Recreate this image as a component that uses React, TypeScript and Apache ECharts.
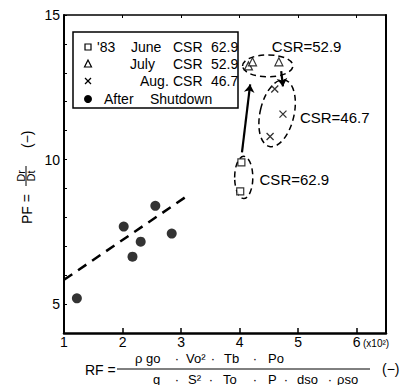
import React, { useEffect, useRef } from 'react';
import * as echarts from 'echarts';

// ---- data ----
const juneRF = [4.03, 4.01];
const junePF = [9.9, 8.9];
const julyRF = [4.15, 4.22, 4.67];
const julyPF = [13.24, 13.38, 13.38];
const augRF = [4.6, 4.74, 4.52];
const augPF = [12.44, 11.57, 10.8];
const afterRF = [1.22, 2.02, 2.17, 2.31, 2.56, 2.84];
const afterPF = [5.2, 7.68, 6.64, 7.16, 8.4, 7.44];
const fitRF = [1, 3.14];
const fitPF = [5.84, 8.79];
const xTickLabels = [1, 2, 3, 4, 5, 6];
const yTickLabels = [5, 10, 15];
const csrTexts = ['CSR=62.9', 'CSR=52.9', 'CSR=46.7'];
const csrRF = [4.34, 4.55, 5.03];
const csrPF = [9.31, 13.9, 11.47];
const outlineRF = [4.07, 4.48, 4.64];
const outlinePF = [9.38, 13.24, 11.6];
const outlineHalfRF = [0.155, 0.43, 0.29];
const outlineHalfPF = [0.73, 0.38, 1.18];
const outlineTilt = [0, 0, -13];
const arrowFromRF = [4.04, 4.71];
const arrowFromPF = [10.25, 13.06];
const arrowToRF = [4.18, 4.74];
const arrowToPF = [12.6, 12.53];

const FONT = '"Liberation Sans", Arial, Helvetica, sans-serif';
const BLACK = '#000';

function pairs(xs: number[], ys: number[]) {
  return xs.map((x, i) => [x, ys[i]]);
}

export default function App() {
  const ref = useRef<HTMLDivElement>(null);
  useEffect(() => {
    if (!ref.current) return;
    const chart = echarts.init(ref.current, null, { renderer: 'svg' });
    const txt = (x: number, y: number, text: string, size = 13, align = 'left', extra: any = {}, rot = 0) => ({
      type: 'text',
      x,
      y,
      rotation: rot,
      z: 20,
      style: { text, fontSize: size, fontFamily: FONT, fill: BLACK, align, verticalAlign: 'middle', ...extra },
    });
    const dot = (x: number, y: number) => txt(x, y, '·', 13, 'center');
    const R = Math.PI / 2;

    const option: any = {
      animation: false,
      backgroundColor: '#fff',
      grid: { left: 64, right: 27, top: 15, bottom: 52 },
      xAxis: [
        {
          type: 'value', min: 1, max: 6.5, interval: 1,
          axisLine: { show: true, lineStyle: { color: BLACK, width: 2.5 } },
          axisTick: { show: true, inside: true, length: 5, lineStyle: { color: BLACK, width: 1.5 } },
          axisLabel: {
            margin: 2, fontSize: 14, fontFamily: FONT, color: BLACK,
            formatter: (v: number) => (xTickLabels.includes(v) ? String(v) : ''),
          },
          splitLine: { show: false },
        },
        {
          type: 'value', position: 'top', min: 1, max: 6.5, interval: 1,
          axisLine: { show: true, lineStyle: { color: BLACK, width: 1.5 } },
          axisTick: { show: true, inside: true, length: 3, lineStyle: { color: BLACK, width: 1 } },
          axisLabel: { show: false },
          splitLine: { show: false },
        },
      ],
      yAxis: [
        {
          type: 'value', min: 4, max: 15, interval: 1,
          axisLine: { show: true, lineStyle: { color: BLACK, width: 2 } },
          axisTick: { show: true, inside: true, length: 3, lineStyle: { color: BLACK, width: 1 } },
          axisLabel: {
            margin: 4, fontSize: 14, fontFamily: FONT, color: BLACK,
            formatter: (v: number) => (yTickLabels.includes(v) ? String(v) : ''),
          },
          splitLine: { show: false },
        },
        {
          type: 'value', position: 'right', min: 4, max: 15, interval: 1,
          axisLine: { show: true, lineStyle: { color: BLACK, width: 2 } },
          axisTick: { show: false },
          axisLabel: { show: false },
          splitLine: { show: false },
        },
      ],
      series: [
        {
          name: 'fit', type: 'line', data: pairs(fitRF, fitPF), symbol: 'none',
          lineStyle: { color: BLACK, width: 2.5, type: [10, 7] }, z: 2,
        },
        {
          name: 'outlines', type: 'custom',
          data: outlineRF.map((x, i) => [x, outlinePF[i], outlineHalfRF[i], outlineHalfPF[i], outlineTilt[i]]),
          renderItem: (params: any, api: any) => {
            const c = api.coord([api.value(0), api.value(1)]);
            const s = api.size([api.value(2), api.value(3)]);
            return {
              type: 'ellipse', x: c[0], y: c[1], rotation: (api.value(4) * Math.PI) / 180,
              shape: { cx: 0, cy: 0, rx: s[0], ry: s[1] },
              style: { fill: 'none', stroke: BLACK, lineWidth: 1.5, lineDash: [6, 4] },
            };
          },
          silent: true, z: 2,
        },
        {
          name: 'csr', type: 'custom',
          data: csrRF.map((x, i) => [x, csrPF[i], i]),
          renderItem: (params: any, api: any) => {
            const c = api.coord([api.value(0), api.value(1)]);
            return {
              type: 'text', x: c[0], y: c[1],
              style: { text: csrTexts[api.value(2)], fontSize: 15, fontFamily: FONT, fill: BLACK, align: 'left', verticalAlign: 'middle' },
            };
          },
          silent: true, z: 3,
        },
        {
          name: 'arrows', type: 'lines', coordinateSystem: 'cartesian2d',
          data: arrowFromRF.map((x, i) => ({ coords: [[x, arrowFromPF[i]], [arrowToRF[i], arrowToPF[i]]] })),
          symbol: ['none', 'arrow'], symbolSize: 8,
          lineStyle: { color: BLACK, width: 2.2, opacity: 1, curveness: 0 }, z: 3,
        },
        {
          name: 'June', type: 'scatter', data: pairs(juneRF, junePF), symbol: 'rect', symbolSize: 7,
          itemStyle: { color: '#fff', borderColor: BLACK, borderWidth: 1.2 }, z: 4,
        },
        {
          name: 'July', type: 'scatter', data: pairs(julyRF, julyPF), symbol: 'triangle', symbolSize: 8,
          itemStyle: { color: '#fff', borderColor: BLACK, borderWidth: 1.2 }, z: 4,
        },
        {
          name: 'Aug', type: 'scatter', data: pairs(augRF, augPF), symbol: 'path://M0,0L10,10M10,0L0,10', symbolSize: 7,
          itemStyle: { color: 'none', borderColor: BLACK, borderWidth: 1.3 }, z: 4,
        },
        {
          name: 'After Shutdown', type: 'scatter', data: pairs(afterRF, afterPF), symbol: 'circle', symbolSize: 10,
          itemStyle: { color: BLACK }, z: 4,
        },
      ],
      graphic: [
        { type: 'rect', shape: { x: 73, y: 32, width: 165, height: 76 }, style: { fill: '#fff', stroke: BLACK, lineWidth: 1.5 }, z: 10 },
        { type: 'rect', z: 20, shape: { x: 85, y: 44, width: 6, height: 6 }, style: { fill: '#fff', stroke: BLACK, lineWidth: 1.2 } },
        txt(97, 47, "'83", 14),
        txt(131, 47, 'June', 14),
        txt(173, 47, 'CSR', 14),
        txt(211, 47, '62.9', 14),
        { type: 'polygon', z: 20, shape: { points: [[88, 60], [84.5, 67], [91.5, 67]] }, style: { fill: '#fff', stroke: BLACK, lineWidth: 1.2 } },
        txt(130, 64, 'July', 14),
        txt(173, 64, 'CSR', 14),
        txt(211, 64, '52.9', 14),
        { type: 'line', z: 20, shape: { x1: 85, y1: 78, x2: 91, y2: 84 }, style: { stroke: BLACK, lineWidth: 1.3 } },
        { type: 'line', z: 20, shape: { x1: 91, y1: 78, x2: 85, y2: 84 }, style: { stroke: BLACK, lineWidth: 1.3 } },
        txt(140, 81, 'Aug.', 14),
        txt(173, 81, 'CSR', 14),
        txt(211, 81, '46.7', 14),
        { type: 'circle', z: 20, shape: { cx: 88, cy: 99, r: 4 }, style: { fill: BLACK } },
        txt(104, 99, 'After', 14),
        txt(150, 99, 'Shutdown', 14),
        // y axis title (rotated text, read bottom to top)
        txt(27, 224, 'PF =', 14, 'left', {}, R),
        txt(21, 176, 'Dr', 11, 'center', {}, R),
        { type: 'line', z: 20, shape: { x1: 26, y1: 166, x2: 26, y2: 186 }, style: { stroke: BLACK, lineWidth: 1 } },
        txt(31, 176, 'Dt', 11, 'center', {}, R),
        txt(27, 148, '(−)', 14, 'left', {}, R),
        // x axis title
        txt(363, 343, '(x10²)', 10),
        txt(85, 370, 'RF =', 14),
        txt(135, 358, 'ρ go', 13),
        dot(177, 358),
        txt(186, 358, 'Vo²', 13),
        dot(213, 358),
        txt(224, 358, 'Tb', 13),
        dot(255, 358),
        txt(268, 358, 'Po', 13),
        { type: 'line', z: 20, shape: { x1: 117, y1: 369, x2: 370, y2: 369 }, style: { stroke: BLACK, lineWidth: 1 } },
        txt(153, 379, 'g', 13),
        dot(177, 379),
        txt(188, 379, 'S²', 13),
        dot(211, 379),
        txt(223, 379, 'To', 13),
        dot(255, 379),
        txt(268, 379, 'P', 13),
        dot(286, 379),
        txt(297, 379, 'dso', 13),
        dot(330, 379),
        txt(337, 379, 'ρso', 13),
        txt(382, 369, '(−)', 14),
      ],
    };
    chart.setOption(option);
    return () => chart.dispose();
  }, []);
  return <div ref={ref} style={{ position: 'fixed', left: 0, top: 0, width: 413, height: 385 }} />;
}
